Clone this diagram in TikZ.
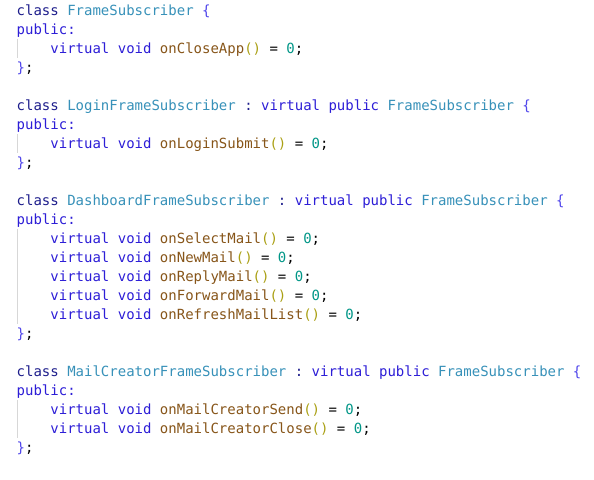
\documentclass[tikz,border=0pt]{standalone}
\usepackage{fontspec}
\setmonofont{DejaVu Sans Mono}
\usepackage{tikz}
\usetikzlibrary{positioning}

\definecolor{kwdark}{RGB}{30,30,140}
\definecolor{kwblue}{RGB}{45,30,215}
\definecolor{typename}{RGB}{55,145,185}
\definecolor{funcname}{RGB}{135,85,25}
\definecolor{parens}{RGB}{170,160,20}
\definecolor{numlit}{RGB}{0,150,135}
\definecolor{bracecol}{RGB}{80,70,235}
\definecolor{guidegray}{RGB}{215,215,215}

\newcommand\kwd[1]{\textcolor{kwdark}{#1}}
\newcommand\kwb[1]{\textcolor{kwblue}{#1}}
\newcommand\tn[1]{\textcolor{typename}{#1}}
\newcommand\brc[1]{\textcolor{bracecol}{#1}}
\newcommand\meth[1]{\kwb{virtual void} \textcolor{funcname}{#1}\textcolor{parens}{()} = \textcolor{numlit}{0};}
\newcommand\classhead[1]{\kwd{class} \tn{#1} \kwd{:} \kwb{virtual public} \tn{FrameSubscriber} \brc{\{}}

\begin{document}
\begin{tikzpicture}[x=1pt,y=1pt,
    code/.style={anchor=base west, inner sep=0pt, text height=14.5pt, text depth=4.5pt,
      font=\ttfamily\fontsize{14}{19}\selectfont},
    guide/.style={draw=guidegray, line width=0.8pt}]
  \fill[white] (0,0) rectangle (594,-479);
  \useasboundingbox (0,0) rectangle (594,-479);

  % FrameSubscriber
  \node[code] (fs-head) at (16.5,-15.5) {\kwd{class} \tn{FrameSubscriber} \brc{\{}};
  \node[code] (fs-pub) at (16.5,-34.5) {\kwb{public:}};
  \node[code] (fs-m1) at (50.2,-53.5) {\meth{onCloseApp}};
  \node[code] (fs-end) at (16.5,-72.5) {\brc{\}};};

  % LoginFrameSubscriber
  \node[code] (login-head) at (16.5,-110.5) {\classhead{LoginFrameSubscriber}};
  \node[code] (login-pub) at (16.5,-129.5) {\kwb{public:}};
  \node[code] (login-m1) at (50.2,-148.5) {\meth{onLoginSubmit}};
  \node[code] (login-end) at (16.5,-167.5) {\brc{\}};};

  % DashboardFrameSubscriber
  \node[code] (dash-head) at (16.5,-205.5) {\classhead{DashboardFrameSubscriber}};
  \node[code] (dash-pub) at (16.5,-224.5) {\kwb{public:}};
  \node[code] (dash-m1) at (50.2,-243.5) {\meth{onSelectMail}};
  \node[code] (dash-m2) at (50.2,-262.5) {\meth{onNewMail}};
  \node[code] (dash-m3) at (50.2,-281.5) {\meth{onReplyMail}};
  \node[code] (dash-m4) at (50.2,-300.5) {\meth{onForwardMail}};
  \node[code] (dash-m5) at (50.2,-319.5) {\meth{onRefreshMailList}};
  \node[code] (dash-end) at (16.5,-338.5) {\brc{\}};};

  % MailCreatorFrameSubscriber
  \node[code] (mail-head) at (16.5,-376.5) {\classhead{MailCreatorFrameSubscriber}};
  \node[code] (mail-pub) at (16.5,-395.5) {\kwb{public:}};
  \node[code] (mail-m1) at (50.2,-414.5) {\meth{onMailCreatorSend}};
  \node[code] (mail-m2) at (50.2,-433.5) {\meth{onMailCreatorClose}};
  \node[code] (mail-end) at (16.5,-452.5) {\brc{\}};};

  % indent guides
  \foreach \blk in {fs,login,dash,mail}
    \draw[guide] ([xshift=1pt]\blk-pub.south west) -- ([xshift=1pt]\blk-end.north west);
\end{tikzpicture}
\end{document}
